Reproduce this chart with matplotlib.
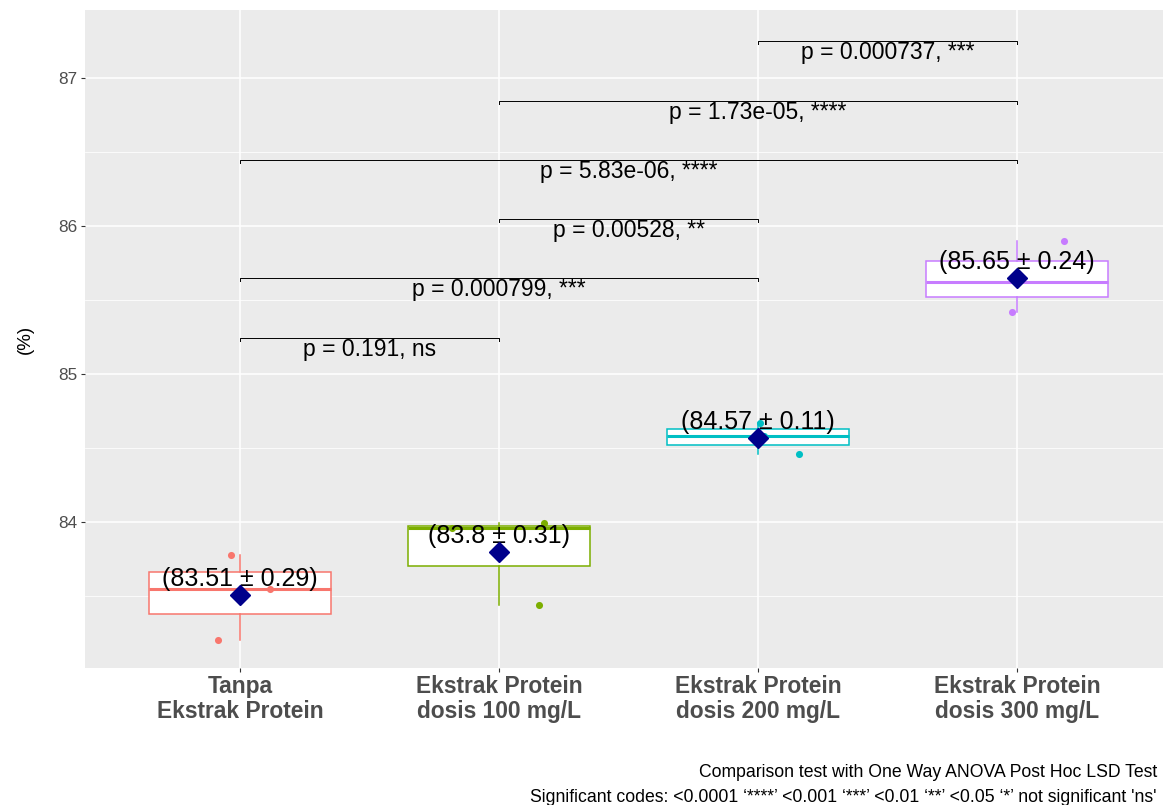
import numpy as np
import matplotlib
matplotlib.use("Agg")
import matplotlib.pyplot as plt

plt.rcParams['font.family'] = ['Liberation Sans', 'DejaVu Sans']

# ---- data ----
categories = ["Tanpa\nEkstrak Protein", "Ekstrak Protein\ndosis 100 mg/L",
              "Ekstrak Protein\ndosis 200 mg/L", "Ekstrak Protein\ndosis 300 mg/L"]
values_g1 = [83.20, 83.55, 83.78]
values_g2 = [83.44, 83.96, 83.99]
values_g3 = [84.46, 84.58, 84.67]
values_g4 = [85.42, 85.62, 85.90]
jitter_g1 = [-0.085, 0.116, -0.035]
jitter_g2 = [0.154, -0.181, 0.174]
jitter_g3 = [0.158, 0.023, 0.008]
jitter_g4 = [-0.019, 0.0, 0.181]
colors = ["#F8766D", "#7CAE00", "#00BFC4", "#C77CFF"]

pair_a = [1, 1, 2, 1, 2, 3]
pair_b = [2, 3, 3, 4, 4, 4]
bracket_y = [85.243, 85.649, 86.047, 86.446, 86.845, 87.25]
p_labels = ["p = 0.191, ns", "p = 0.000799, ***", "p = 0.00528, **",
            "p = 5.83e-06, ****", "p = 1.73e-05, ****", "p = 0.000737, ***"]

yticks = [84, 85, 86, 87]

groups = [values_g1, values_g2, values_g3, values_g4]
jitters = [jitter_g1, jitter_g2, jitter_g3, jitter_g4]

# ---- figure ----
W, H = 1163, 805
fig = plt.figure(figsize=(W / 100, H / 100), dpi=100)
left_px, right_px, top_px, bot_px = 84.6, 1172.4, 10, 668
ax = fig.add_axes([left_px / W, (H - bot_px) / H, (right_px - left_px) / W, (bot_px - top_px) / H])
ax.set_facecolor("#EBEBEB")
for s in ax.spines.values():
    s.set_visible(False)

ax.set_xlim(0.4, 4.6)
ax.set_ylim(83.0135, 87.459)

# grid
ax.set_yticks(yticks)
ax.set_yticks([83.5, 84.5, 85.5, 86.5], minor=True)
ax.set_xticks(range(1, 5))
ax.grid(True, which="major", color="white", linewidth=1.1, zorder=0)
ax.grid(True, which="minor", axis="y", color="white", linewidth=0.55, zorder=0)
ax.set_axisbelow(True)

# boxes
positions = list(range(1, 5))
for i, (vals, col) in enumerate(zip(groups, colors)):
    bp = ax.boxplot([vals], positions=[positions[i]], widths=0.7, whis=(0, 100),
                    patch_artist=True, showfliers=False, showcaps=False,
                    manage_ticks=False, zorder=2)
    for b in bp['boxes']:
        b.set_facecolor("white")
        b.set_edgecolor(col)
        b.set_linewidth(1.1)
    for w in bp['whiskers']:
        w.set_color(col)
        w.set_linewidth(1.1)
    for m in bp['medians']:
        m.set_color(col)
        m.set_linewidth(2.2)

# jittered points
for i, (vals, jit, col) in enumerate(zip(groups, jitters, colors)):
    xs = [positions[i] + j for j in jit]
    ax.scatter(xs, vals, s=26, color=col, zorder=3, linewidths=0)

# mean diamonds + labels
for i, vals in enumerate(groups):
    m = np.mean(vals)
    sd = np.std(vals, ddof=1)
    ax.plot([positions[i]], [m], marker="D", markersize=10, color="#00008B",
            linestyle="none", zorder=5)
    ax.annotate(f"({round(m, 2):g} \u00b1 {round(sd, 2):g})", xy=(positions[i], m),
                xytext=(0, 11.5), textcoords="offset points", ha="center", va="center",
                fontsize=18, color="black", zorder=4)

# brackets
tip = 0.02
for a, b, yb, lab in zip(pair_a, pair_b, bracket_y, p_labels):
    ax.plot([a, a, b, b], [yb - tip, yb, yb, yb - tip], color="black", linewidth=0.7, zorder=4)
    ax.annotate(lab, xy=((a + b) / 2, yb), xytext=(0, -8.5), textcoords="offset points",
                ha="center", va="center", fontsize=16.5, color="black", zorder=4)

# ticks
ax.set_xticklabels(categories, fontsize=16.4, fontweight="bold", color="#4D4D4D", linespacing=1.12)
ax.set_yticklabels([str(t) for t in yticks], fontsize=12.3, color="#4D4D4D")
ax.tick_params(axis="both", which="major", color="#333333", length=3, width=0.8, pad=2)
ax.tick_params(axis="y", which="minor", length=0)
ax.set_ylabel("(%)", fontsize=13.5, color="black", labelpad=18)

fig.text(1157 / W, 1 - 772 / H, "Comparison test with One Way ANOVA Post Hoc LSD Test",
         ha="right", va="center", fontsize=12.7, color="black")
fig.text(1157 / W, 1 - 797 / H,
         "Significant codes: <0.0001 \u2018****\u2019 <0.001 \u2018***\u2019 <0.01 \u2018**\u2019 <0.05 \u2018*\u2019 not significant 'ns'",
         ha="right", va="center", fontsize=12.7, color="black")

fig.savefig("out.png", dpi=100)
